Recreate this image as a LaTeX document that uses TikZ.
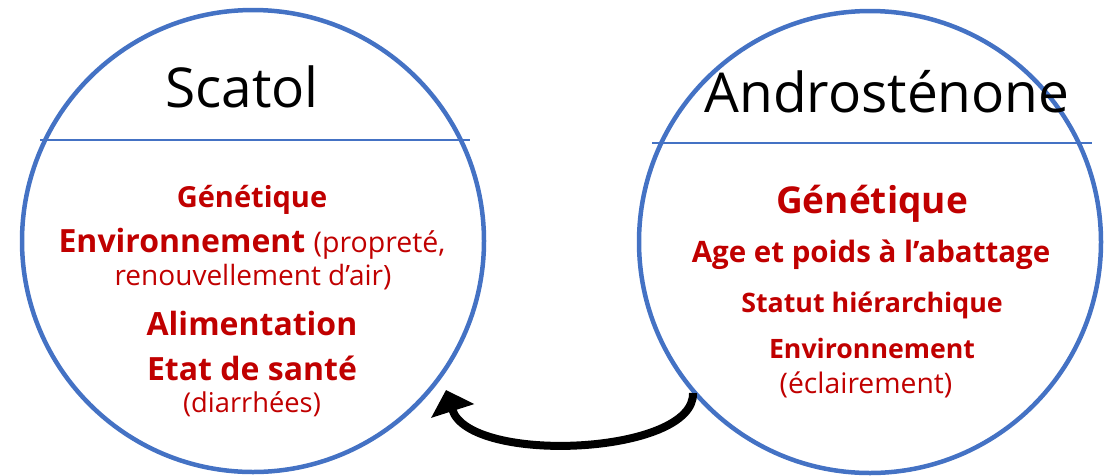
\documentclass[tikz,border=0pt]{standalone}
\usepackage{fontspec}
\setmainfont{Open Sans}
\usetikzlibrary{arrows.meta}
\definecolor{cblue}{HTML}{4472C4}
\definecolor{cred}{HTML}{C00000}
\begin{document}
\begin{tikzpicture}[x=1pt,y=-1pt,
  ring/.style={circle,draw=cblue,line width=4.5pt,minimum size=462pt,inner sep=0pt},
  divider/.style={draw=cblue,line width=2.5pt},
  title/.style={anchor=base,inner sep=0pt,font=\fontsize{55}{60}\selectfont},
  txt/.style={anchor=base,inner sep=0pt,text=cred,align=center},
  flow/.style={line width=8pt,-{Triangle[length=22pt,width=44pt]}}
]
\useasboundingbox (0,0) rectangle (1105,475);
% circles
\node[ring] (scatol) at (253,241) {};
\node[ring] (andro) at (870,242) {};
% dividers
\coordinate (sl) at (40,140);
\coordinate (sr) at (470,140);
\coordinate (al) at (652,143);
\coordinate (ar) at (1092,143);
\draw[divider] (sl) -- (sr);
\draw[divider] (al) -- (ar);
% titles
\node[title] (t1) at (242,107) {Scatol};
\node[title] (t2) at (887,112) {Androsténone};
% left items
\node[txt,font=\bfseries\fontsize{29}{32}\selectfont] (l1) at (252,207) {Génétique};
\node[txt] (l2) at (252,252) {\fontsize{32}{36}\selectfont\bfseries Environnement \fontsize{28.5}{32}\selectfont\mdseries (propreté,};
\node[txt,font=\fontsize{28}{32}\selectfont] (l3) at (253,285) {renouvellement d’air)};
\node[txt,font=\bfseries\fontsize{32}{36}\selectfont] (l4) at (252,335) {Alimentation};
\node[txt,font=\bfseries\fontsize{32}{36}\selectfont] (l5) at (252,380) {Etat de santé};
\node[txt,font=\fontsize{27.3}{31}\selectfont] (l6) at (252,412) {(diarrhées)};
% right items
\node[txt,font=\bfseries\fontsize{37}{40}\selectfont] (r1) at (872,213) {Génétique};
\node[txt,font=\bfseries\fontsize{29.5}{33}\selectfont] (r2) at (871,262) {Age et poids à l’abattage};
\node[txt,font=\bfseries\fontsize{26.8}{30}\selectfont] (r3) at (872,312) {Statut hiérarchique};
\node[txt,font=\bfseries\fontsize{26.7}{30}\selectfont] (r4) at (872,358) {Environnement};
\node[txt,font=\fontsize{28.3}{32}\selectfont] (r5) at (866,393) {(éclairement)};
% arrow
\coordinate (astart) at (693,393);
\coordinate (aend) at (446,390);
\draw[flow] (astart) .. controls (695,455) and (470,465) .. (aend);
\end{tikzpicture}
\end{document}
